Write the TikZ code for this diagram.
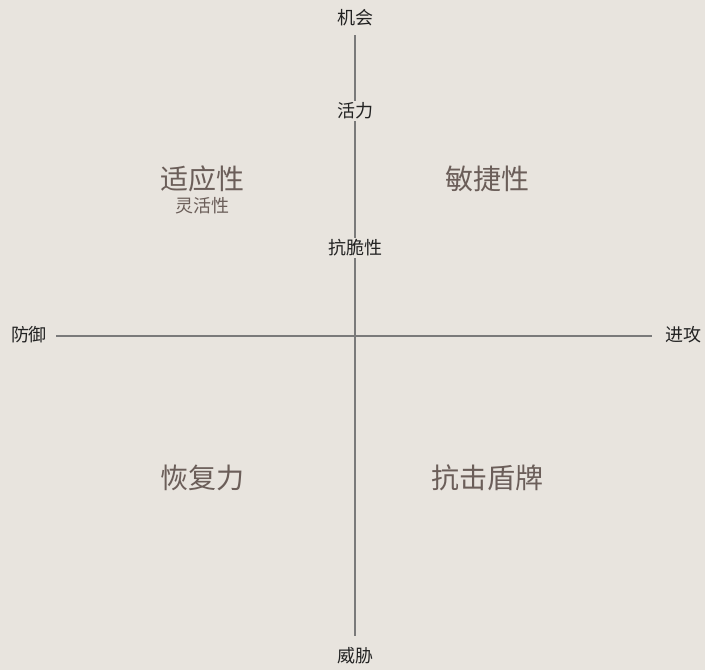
\documentclass[tikz,border=0pt]{standalone}
\usepackage{fontspec}
\setmainfont{Noto Sans CJK SC}
\definecolor{bg}{HTML}{E8E4DE}
\definecolor{axisc}{HTML}{7A7A7A}
\definecolor{quadc}{HTML}{6B5E59}
\definecolor{labc}{HTML}{222222}
\begin{document}
\begin{tikzpicture}[x=1pt,y=-1pt,
  axislab/.style={text=labc,font=\fontsize{18}{20}\selectfont,inner sep=2pt},
  onaxis/.style={axislab,fill=bg,inner sep=2pt},
  quad/.style={text=quadc,font=\fontsize{28}{30}\selectfont,inner sep=0pt},
  sub/.style={text=quadc,font=\fontsize{18}{20}\selectfont,inner sep=0pt},
  axisline/.style={draw=axisc,line width=2pt}]
\fill[bg] (0,0) rectangle (705,670);
\useasboundingbox (0,0) rectangle (705,670);
\coordinate (top) at (355,35);
\coordinate (bot) at (355,636);
\coordinate (left) at (56,336);
\coordinate (right) at (652,336);
\draw[axisline] (left) -- (right);
\draw[axisline] (top) -- (bot);
\node[axislab] (opp) at (355,18) {机会};
\node[axislab] (thr) at (355,656) {威胁};
\node[axislab] (def) at (29,335) {防御};
\node[axislab] (att) at (683,335) {进攻};
\node[onaxis] (vit) at (355,111) {活力};
\node[onaxis] (anti) at (355,248) {抗脆性};
\node[quad] (adapt) at (202,179) {适应性};
\node[sub] (flex) at (202,206) {灵活性};
\node[quad] (agile) at (487,179) {敏捷性};
\node[quad] (resil) at (202,478) {恢复力};
\node[quad] (shield) at (487,478) {抗击盾牌};
\end{tikzpicture}
\end{document}
